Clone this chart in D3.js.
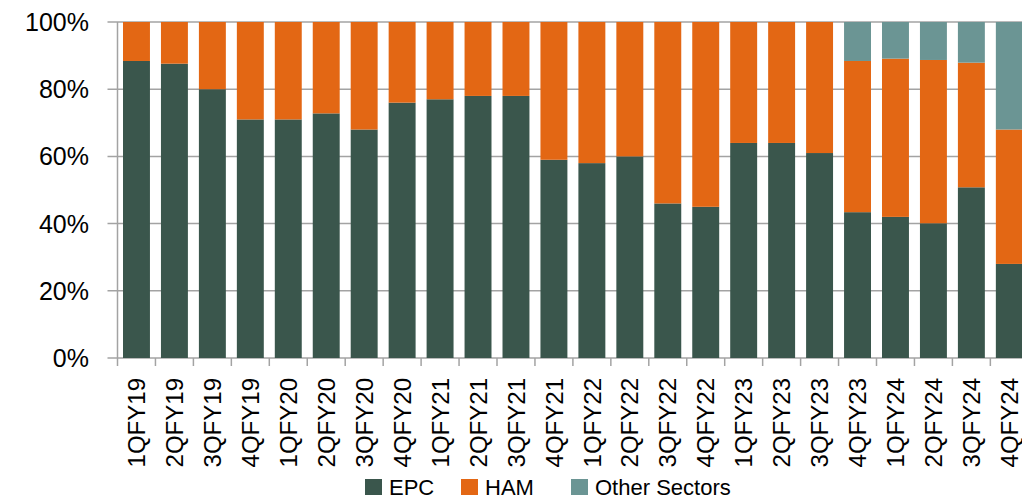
<!DOCTYPE html>
<html><head><meta charset="utf-8">
<script src="https://cdn.jsdelivr.net/npm/d3@7"></script>
<style>body{margin:0;background:#fff;}svg{display:block;}</style>
</head><body>
<svg id="c" width="1022" height="500"></svg>
<script>
const categories = ["1QFY19","2QFY19","3QFY19","4QFY19","1QFY20","2QFY20","3QFY20","4QFY20","1QFY21","2QFY21","3QFY21","4QFY21","1QFY22","2QFY22","3QFY22","4QFY22","1QFY23","2QFY23","3QFY23","4QFY23","1QFY24","2QFY24","3QFY24","4QFY24"];
const epc = [88.4,87.6,80,71,71,72.8,68,76,77,78,78,59,58,60,46,45,64,64,61,43.4,42,40.1,50.8,28];
const ham = [11.6,12.4,20,29,29,27.2,32,24,23,22,22,41,42,40,54,55,36,36,39,45,47.1,48.6,37.1,40];
const other = [0,0,0,0,0,0,0,0,0,0,0,0,0,0,0,0,0,0,0,11.6,10.9,11.3,12.1,32];
const seriesNames = ["EPC","HAM","Other Sectors"];
const yTicks = [0,20,40,60,80,100];

const colors = {"EPC":"#3a564c","HAM":"#e36714","Other Sectors":"#6b9594"};
const svg = d3.select("#c");
const mLeft = 117.5, mRight = 1028.3, mTop = 22, mBottom = 358;

const x = d3.scaleBand().domain(categories).range([mLeft, mRight]).paddingInner(0.29).paddingOuter(0.145);
const y = d3.scaleLinear().domain([0,100]).range([mBottom, mTop]);

// gridlines
svg.append("g").selectAll("line").data(yTicks).join("line")
  .attr("x1", mLeft - 10).attr("x2", 1022)
  .attr("y1", d => y(d)).attr("y2", d => y(d))
  .attr("stroke", "#a3a3a3").attr("stroke-width", 1.5);

const rows = categories.map((c,i) => ({cat:c, "EPC":epc[i], "HAM":ham[i], "Other Sectors":other[i]}));
const stack = d3.stack().keys(seriesNames)(rows);

svg.append("g").selectAll("g").data(stack).join("g")
  .attr("fill", d => colors[d.key])
  .selectAll("rect").data(d => d).join("rect")
  .attr("x", d => x(d.data.cat))
  .attr("width", x.bandwidth())
  .attr("y", d => y(Math.min(100, d[1])))
  .attr("height", d => Math.max(0, y(d[0]) - y(Math.min(100, d[1]))));

// y axis line
svg.append("line").attr("x1", mLeft).attr("x2", mLeft).attr("y1", mTop).attr("y2", mBottom + 8)
  .attr("stroke", "#a3a3a3").attr("stroke-width", 1.5);
// x axis ticks at band boundaries
const halfGap = x.step() * 0.145;
svg.append("g").selectAll("line").data(categories.slice(1)).join("line")
  .attr("x1", d => x(d) - halfGap).attr("x2", d => x(d) - halfGap)
  .attr("y1", mBottom).attr("y2", mBottom + 8)
  .attr("stroke", "#a3a3a3").attr("stroke-width", 1.5);

// y labels
svg.append("g").selectAll("text").data(yTicks).join("text")
  .attr("x", 89).attr("y", d => y(d)).attr("dy", "0.36em")
  .attr("text-anchor", "end")
  .style("font-family", "'Liberation Sans', Arial, sans-serif").style("font-size", "25px").attr("fill", "#000")
  .text(d => d + "%");

// x labels rotated
svg.append("g").selectAll("text").data(categories).join("text")
  .attr("transform", d => `translate(${x(d) + x.bandwidth()/2},${378}) rotate(-90)`)
  .attr("text-anchor", "end").attr("dy", "0.36em")
  .style("font-family", "'Liberation Sans', Arial, sans-serif").style("font-size", "24px").attr("fill", "#000")
  .text(d => d);

// legend
const legX = [365, 461, 571];
const leg = svg.append("g").selectAll("g").data(seriesNames).join("g")
  .attr("transform", (d,i) => `translate(${legX[i]},479)`);
leg.append("rect").attr("width", 17).attr("height", 16).attr("fill", d => colors[d]);
leg.append("text").attr("x", 24).attr("y", 15.5)
  .style("font-family", "'Liberation Sans', Arial, sans-serif").style("font-size", "22px").attr("fill", "#000")
  .text(d => d);
</script>
</body></html>
